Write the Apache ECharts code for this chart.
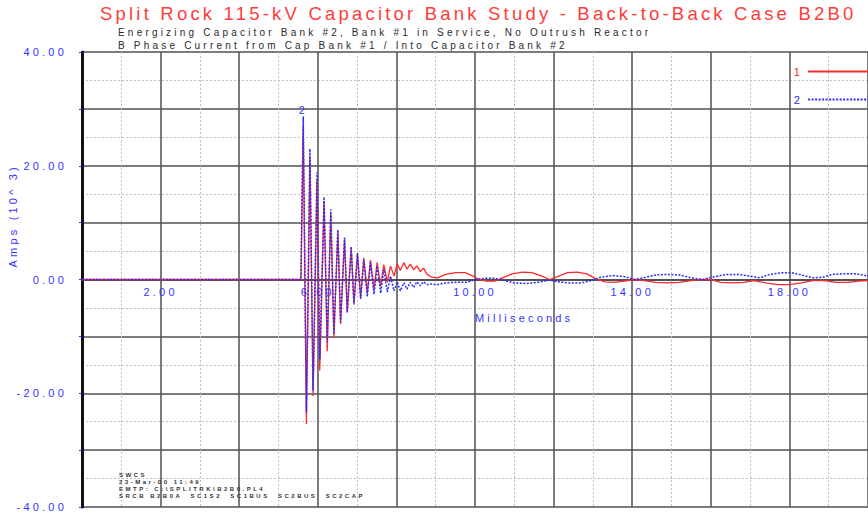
<!DOCTYPE html>
<html><head><meta charset="utf-8">
<script src="https://cdn.jsdelivr.net/npm/echarts@6/dist/echarts.min.js"></script>
<style>
html,body{margin:0;padding:0;background:#fff;}
#chart{width:868px;height:515px;}
#chart text{letter-spacing:3.2px;}
#chart text[style*="6px"]{letter-spacing:2.5px;}
</style></head><body><div id="chart"></div>
<script>
const chartTitle = 'Split Rock 115-kV Capacitor Bank Study - Back-to-Back Case B2B0';
const subtitleLines = [
  'Energizing Capacitor Bank #2, Bank #1 in Service, No Outrush Reactor',
  'B Phase Current from Cap Bank #1 / Into Capacitor Bank #2'
];
const footerLines = ['SWCS', '23-Mar-00 11:49', 'EMTP: C:\\SPLITRK\\B2B0.PL4', 'SRCB B2B0A  SC1S2  SC1BUS  SC2BUS  SC2CAP'];
const seriesNames = ['1', '2'];
const xAxisName = 'Milliseconds';
const yAxisName = 'Amps (10^ 3)';
const xTickLabels = [2, 6, 10, 14, 18];
const yTickLabels = [-40, -20, 0, 20, 40];

// before energizing
const preTimes = [0];
const preRed = [0];
const preBlue = [0];

// inrush burst (alternating peaks / troughs)
const burstTimes = [5.57, 5.63, 5.71, 5.80, 5.88, 5.98, 6.05, 6.16, 6.24, 6.33, 6.41, 6.51, 6.58, 6.68, 6.75, 6.85, 6.92, 7.01, 7.09, 7.17, 7.26, 7.34, 7.43, 7.51, 7.60, 7.68, 7.77, 7.85, 7.94, 8.02, 8.10, 8.19, 8.27, 8.35, 8.44, 8.52, 8.61, 8.69, 8.78];
const redBurst = [0, 27.0, -25.4, 21.5, -20.5, 17.5, -16.0, 13.8, -12.6, 11.5, -10.2, 8.5, -7.8, 7.0, -5.8, 5.6, -4.2, 4.6, -3.2, 3.8, -2.4, 3.4, -1.8, 3.0, -1.2, 2.6, -0.4, 2.4, 0.6, 2.8, 1.6, 3.0, 1.8, 2.7, 1.7, 2.4, 1.4, 2.0, 0.9];
const blueBurst = [0, 28.6, -23.4, 23.0, -19.5, 18.8, -14.0, 14.5, -11.0, 12.3, -9.6, 8.8, -7.5, 7.4, -5.8, 5.8, -4.4, 4.6, -3.4, 3.4, -3.0, 3.0, -2.6, 2.4, -2.4, 1.8, -2.2, 0.6, -2.0, -0.4, -2.0, -0.6, -1.7, -0.5, -1.4, -0.4, -1.1, -0.4, -0.9];

// slow oscillation afterwards
const redSlowTimes = [8.9, 9.05, 9.25, 9.5, 9.75, 9.95, 10.1, 10.3, 10.5, 10.7, 10.95, 11.2, 11.45, 11.7, 11.9, 12.1, 12.35, 12.6, 12.85, 13.05, 13.3, 13.55, 13.8, 14.05, 14.3, 14.6, 14.9, 15.2, 15.5, 15.75, 16.0, 16.25, 16.55, 16.85, 17.1, 17.4, 17.7, 18.0, 18.3, 18.6, 18.9, 19.2, 19.5, 19.75, 20.0];
const redSlow = [0.4, 0.3, 0.9, 1.2, 1.2, 0.6, 0.0, -0.3, -0.3, 0.3, 1.0, 1.3, 1.2, 0.6, 0.0, 0.5, 1.2, 1.3, 1.0, 0.2, -0.4, -0.5, -0.3, 0.0, -0.2, -0.5, -0.6, -0.5, -0.2, 0.0, 0.0, -0.5, -0.6, -0.5, -0.2, -0.6, -0.9, -0.9, -0.6, -0.2, -0.2, -0.5, -0.5, -0.3, -0.2];
const blueSlowTimes = [8.9, 9.05, 9.25, 9.5, 9.8, 10.0, 10.25, 10.5, 10.75, 11.0, 11.3, 11.6, 11.9, 12.1, 12.4, 12.7, 12.95, 13.2, 13.5, 13.8, 14.05, 14.3, 14.6, 14.9, 15.2, 15.5, 15.8, 16.1, 16.4, 16.7, 17.0, 17.25, 17.5, 17.8, 18.05, 18.3, 18.6, 18.85, 19.1, 19.4, 19.7, 20.0];
const blueSlow = [-0.8, -0.9, -0.6, -0.5, -0.5, 0.0, 0.2, 0.2, -0.2, -0.6, -0.7, -0.5, -0.1, -0.4, -0.6, -0.6, -0.2, 0.4, 0.7, 0.5, 0.0, 0.3, 0.8, 0.9, 0.8, 0.3, 0.0, 0.5, 0.9, 0.9, 0.6, 0.3, 0.9, 1.2, 1.2, 0.8, 0.3, 0.4, 0.9, 1.0, 1.0, 0.6];

const RED = '#ff2a2a';
const BLUE = '#2b2bff';
const TXTBLUE = '#3434ff';

function zip(ts, vs) { return ts.map((t, i) => [t, vs[i]]); }
const redData = [].concat(zip(preTimes, preRed), zip(burstTimes, redBurst), zip(redSlowTimes, redSlow));
const blueData = [].concat(zip(preTimes, preBlue), zip(burstTimes, blueBurst), zip(blueSlowTimes, blueSlow));
let bluePeak = blueData[0];
blueData.forEach(p => { if (p[1] > bluePeak[1]) bluePeak = p; });

const GRID_TOP = 52, GRID_BOTTOM = 8, CH = 515;
const Y_MIN = -40, Y_MAX = 40;
// offset of the x axis from the grid bottom so that it sits on y = 0
const zeroOffset = -(CH - GRID_TOP - GRID_BOTTOM) * (0 - Y_MIN) / (Y_MAX - Y_MIN);

const chart = echarts.init(document.getElementById('chart'), null, {renderer: 'svg'});
chart.setOption({
  animation: false,
  backgroundColor: '#fff',
  title: [
    {text: chartTitle, left: 100, top: 4, padding: 0,
     textStyle: {fontFamily: 'Liberation Sans', fontSize: 18.5, fontWeight: 'normal', color: '#ff3c3c'}},
    {text: subtitleLines[0], left: 118, top: 27, padding: 0,
     textStyle: {fontFamily: 'Liberation Sans', fontSize: 10, fontWeight: 'normal', color: '#2a2a2a'}},
    {text: subtitleLines[1], left: 118, top: 40, padding: 0,
     textStyle: {fontFamily: 'Liberation Sans', fontSize: 10, fontWeight: 'normal', color: '#2a2a2a'}},
    {text: footerLines.join('\n'), left: 119, top: 471, padding: 0,
     textStyle: {fontFamily: 'Liberation Sans', fontSize: 6, lineHeight: 7, fontWeight: 'bold', color: '#333'}}
  ],
  legend: {
    left: 797, top: 66, orient: 'vertical', align: 'right', padding: 0,
    itemWidth: 62, itemHeight: 10, itemGap: 17,
    itemStyle: {opacity: 0},
    textStyle: {fontFamily: 'Liberation Sans', fontSize: 11},
    data: [{name: seriesNames[0], textStyle: {color: RED}}, {name: seriesNames[1], textStyle: {color: BLUE}}]
  },
  grid: {left: 82, right: 0, top: GRID_TOP, bottom: GRID_BOTTOM, containLabel: false, outerBoundsMode: 'none'},
  xAxis: {
    type: 'value', min: 0, max: 20, interval: 2,
    position: 'bottom', offset: zeroOffset,
    name: xAxisName, nameLocation: 'middle', nameGap: 33,
    nameTextStyle: {color: TXTBLUE, fontFamily: 'Liberation Sans', fontSize: 11, align: 'left'},
    axisLine: {onZero: false, lineStyle: {color: '#444', width: 1.5}},
    axisTick: {show: false},
    axisLabel: {margin: 7, color: TXTBLUE, fontFamily: 'Liberation Sans', fontSize: 11,
      formatter: v => xTickLabels.includes(v) ? v.toFixed(2) : ''},
    splitLine: {show: true, lineStyle: {color: '#505050', width: 1.5}},
    minorTick: {show: false, splitNumber: 2},
    minorSplitLine: {show: true, lineStyle: {color: '#c0c0c0', width: 1, type: [2, 2]}}
  },
  yAxis: {
    type: 'value', min: Y_MIN, max: Y_MAX, interval: 10,
    name: yAxisName, nameLocation: 'middle', nameGap: 64,
    nameTextStyle: {color: TXTBLUE, fontFamily: 'Liberation Sans', fontSize: 11, align: 'left', padding: [0, 0, 0, 12]},
    axisLine: {show: true, onZero: false, lineStyle: {color: '#111', width: 3}},
    axisTick: {show: true, length: 3, lineStyle: {color: BLUE, width: 1}},
    axisLabel: {margin: 15, color: TXTBLUE, fontFamily: 'Liberation Sans', fontSize: 11,
      formatter: v => yTickLabels.includes(v) ? v.toFixed(2) : ''},
    splitLine: {show: true, lineStyle: {color: '#505050', width: 1.5}},
    minorTick: {show: false, splitNumber: 2},
    minorSplitLine: {show: true, lineStyle: {color: '#c0c0c0', width: 1, type: [2, 2]}}
  },
  series: [
    {name: seriesNames[0], type: 'line', data: redData, symbol: 'none', smooth: false,
     lineStyle: {color: RED, width: 1.3}, itemStyle: {color: RED}, z: 3},
    {name: seriesNames[1], type: 'line', data: blueData, symbol: 'none', smooth: false,
     lineStyle: {color: BLUE, width: 1.5, type: [2, 1.5]}, itemStyle: {color: BLUE}, z: 4,
     markPoint: {symbol: 'circle', symbolSize: 1, itemStyle: {color: BLUE},
       label: {show: true, position: 'top', distance: 1, formatter: seriesNames[1], color: BLUE, fontSize: 10, fontFamily: 'Liberation Sans'},
       data: [{coord: bluePeak}]}}
  ]
});
</script></body></html>
